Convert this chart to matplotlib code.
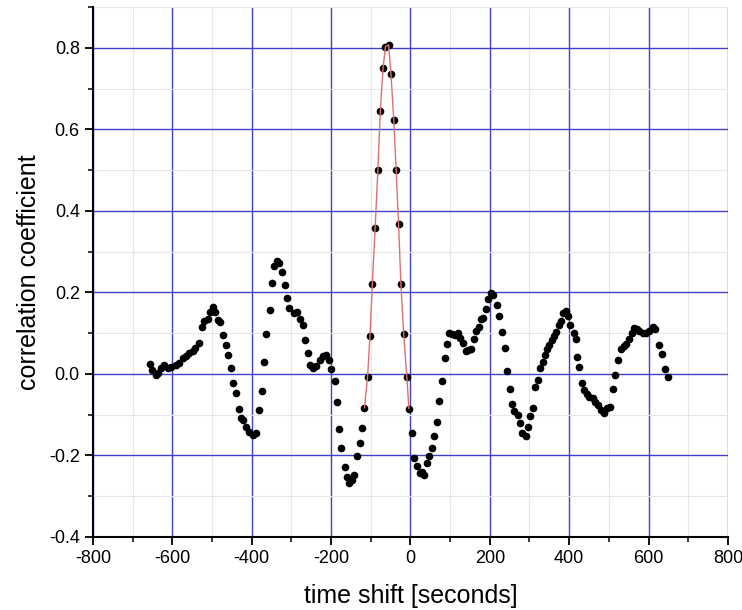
import numpy as np
import matplotlib.pyplot as plt
from matplotlib.ticker import MultipleLocator

plt.rcParams['font.family'] = ['Liberation Sans', 'DejaVu Sans']
plt.rcParams['axes.unicode_minus'] = False

# time shift [s] and correlation coefficient
lag = [-657, -651, -642, -636, -628, -620, -611, -603, -590, -582,
       -574, -565, -557, -548, -542, -533, -525, -519, -511, -505,
       -498, -492, -485, -479, -473, -466, -460, -453, -448, -439,
       -433, -426, -421, -414, -406, -397, -389, -382, -375, -370,
       -363, -355, -350, -343, -337, -330, -323, -317, -310, -305,
       -294, -285, -278, -271, -265, -259, -253, -246, -238, -229,
       -221, -212, -206, -200, -191, -186, -181, -174, -166, -160,
       -155, -147, -141, -135, -128, -122,
       -116, -108, -102, -96, -89, -82, -76, -69, -63, -55,
       -49, -42, -36, -30, -24, -17, -9, -4,
       3, 8, 16, 23, 29, 35, 42, 48, 54, 60,
       67, 73, 80, 86, 92, 98, 105, 113, 119, 125,
       132, 139, 144, 152, 159, 165, 172, 177, 184, 191,
       196, 202, 209, 217, 224, 231, 238, 243, 251, 256,
       262, 270, 276, 281, 290, 295, 302, 308, 315, 322,
       327, 333, 339, 344, 350, 356, 361, 367, 374, 380,
       385, 392, 398, 403, 411, 416, 420, 426, 433, 438,
       444, 451, 459, 466, 472, 481, 489, 495, 502, 510,
       516, 524, 531, 537, 544, 552, 559, 564, 570, 577,
       585, 594, 602, 610, 617, 627, 634, 642, 648]
corr = [0.025, 0.010, -0.002, 0.003, 0.014, 0.022, 0.014, 0.018, 0.022, 0.026,
        0.038, 0.044, 0.051, 0.055, 0.063, 0.077, 0.115, 0.131, 0.134, 0.153,
        0.164, 0.153, 0.133, 0.128, 0.096, 0.071, 0.047, 0.014, -0.023, -0.046,
        -0.087, -0.109, -0.113, -0.129, -0.142, -0.150, -0.144, -0.088, -0.042, 0.030,
        0.097, 0.157, 0.224, 0.265, 0.276, 0.273, 0.249, 0.218, 0.186, 0.161,
        0.149, 0.151, 0.134, 0.120, 0.082, 0.052, 0.022, 0.014, 0.020, 0.034,
        0.044, 0.047, 0.034, 0.012, -0.017, -0.070, -0.135, -0.182, -0.229, -0.252,
        -0.267, -0.260, -0.248, -0.201, -0.170, -0.133,
        -0.083, -0.007, 0.093, 0.220, 0.358, 0.500, 0.644, 0.750, 0.803, 0.807,
        0.735, 0.623, 0.500, 0.368, 0.220, 0.098, -0.008, -0.085,
        -0.146, -0.207, -0.227, -0.242, -0.240, -0.248, -0.218, -0.201, -0.182, -0.152,
        -0.119, -0.066, -0.017, 0.038, 0.074, 0.101, 0.098, 0.096, 0.100, 0.088,
        0.075, 0.056, 0.059, 0.061, 0.085, 0.106, 0.116, 0.134, 0.137, 0.159,
        0.183, 0.198, 0.194, 0.169, 0.141, 0.104, 0.063, 0.008, -0.038, -0.074,
        -0.092, -0.100, -0.121, -0.144, -0.152, -0.129, -0.103, -0.084, -0.031, -0.015,
        0.014, 0.030, 0.047, 0.061, 0.071, 0.082, 0.092, 0.104, 0.120, 0.131,
        0.150, 0.155, 0.142, 0.120, 0.100, 0.085, 0.042, 0.016, -0.023, -0.039,
        -0.049, -0.056, -0.060, -0.068, -0.076, -0.088, -0.095, -0.084, -0.082, -0.038,
        -0.002, 0.034, 0.061, 0.069, 0.074, 0.085, 0.100, 0.112, 0.110, 0.106,
        0.101, 0.101, 0.106, 0.116, 0.110, 0.071, 0.049, 0.012, -0.008]

# central peak joined by the red line
fit_lo, fit_hi = -116, -4

lag = np.array(lag)
corr = np.array(corr)
m = (lag >= fit_lo) & (lag <= fit_hi)

fig = plt.figure(figsize=(7.42, 6.10), dpi=100)
ax = fig.add_axes([0.1253, 0.1197, 0.8557, 0.8688])

ax.plot(lag, corr, 'o', color='black', markersize=4.5, zorder=3)
ax.plot(lag[m], corr[m], '-', color='#e07070', lw=1.0, zorder=4)

ax.set_xlim(-800, 800)
ax.set_ylim(-0.4, 0.9)
ax.xaxis.set_major_locator(MultipleLocator(200))
ax.xaxis.set_minor_locator(MultipleLocator(100))
ax.yaxis.set_minor_locator(MultipleLocator(0.1))
ax.set_yticks(np.arange(-0.4, 0.81, 0.2))
ax.set_yticklabels(['%.1f' % v for v in np.arange(-0.4, 0.81, 0.2)])

ax.grid(which='major', color='#4040cc', lw=1.0, zorder=1)
ax.grid(which='minor', color='#e6e6e6', lw=0.8, zorder=0)
ax.set_axisbelow(True)

for s in ['top', 'right']:
    ax.spines[s].set_visible(False)
for s in ['left', 'bottom']:
    ax.spines[s].set_linewidth(1.5)

ax.tick_params(which='major', direction='out', length=6, width=1.3, labelsize=13)
ax.tick_params(which='minor', direction='out', length=3.5, width=1.1)

ax.set_xlabel('time shift [seconds]', fontsize=18, labelpad=12)
ax.set_ylabel('correlation coefficient', fontsize=18, labelpad=6)

fig.savefig('out.png', dpi=100)
